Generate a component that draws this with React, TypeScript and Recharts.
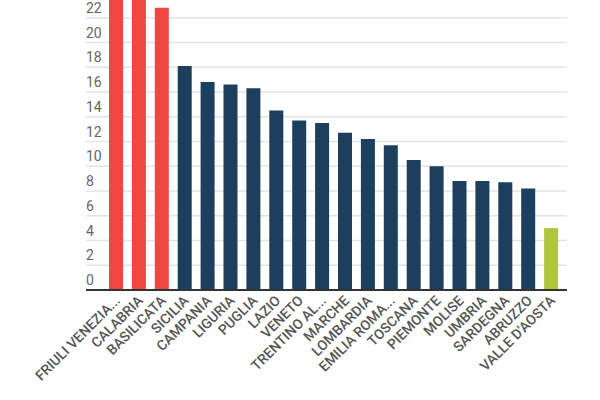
import { BarChart, Bar, XAxis, YAxis, CartesianGrid, Cell } from "recharts";

const regions = [
  "FRIULI VENEZIA...",
  "CALABRIA",
  "BASILICATA",
  "SICILIA",
  "CAMPANIA",
  "LIGURIA",
  "PUGLIA",
  "LAZIO",
  "VENETO",
  "TRENTINO AL...",
  "MARCHE",
  "LOMBARDIA",
  "EMILIA ROMA...",
  "TOSCANA",
  "PIEMONTE",
  "MOLISE",
  "UMBRIA",
  "SARDEGNA",
  "ABRUZZO",
  "VALLE D'AOSTA",
];

const values = [
  24.8, 24.5, 22.8, 18.1, 16.8, 16.6, 16.3, 14.5, 13.7, 13.5, 12.7, 12.2, 11.7, 10.5,
  10.0, 8.8, 8.8, 8.7, 8.2, 5.0,
];

// 0 = above average (red), 1 = normal, 2 = lowest
const groups = [0, 0, 0, 1, 1, 1, 1, 1, 1, 1, 1, 1, 1, 1, 1, 1, 1, 1, 1, 2];
const groupColors = ["#ee4641", "#1c3f5d", "#afc541"];

const yTicks = [0, 2, 4, 6, 8, 10, 12, 14, 16, 18, 20, 22];

const data = regions.map((name, i) => ({ name, value: values[i], group: groups[i] }));

function YTick(props: any) {
  const { y, payload } = props;
  return (
    <text x={86} y={y - 5} textAnchor="start" fill="#666" fontSize={14} fontFamily="Roboto">
      {payload.value}
    </text>
  );
}

function XTick(props: any) {
  const { x, y, payload } = props;
  return (
    <g transform={`translate(${x + 1},${y})`}>
      <text
        textAnchor="end"
        transform="rotate(-45)"
        dy={5}
        fill="#555"
        fontSize={14}
        fontWeight={500}
        fontFamily="Roboto"
      >
        {payload.value}
      </text>
    </g>
  );
}

export default function App() {
  return (
    <div style={{ position: "absolute", left: 0, top: -7, background: "#fff" }}>
      <BarChart
        width={600}
        height={407}
        data={data}
        margin={{ top: 0, right: 33, left: 0, bottom: 0 }}
      >
        <CartesianGrid vertical={false} stroke="#e4e4e4" strokeWidth={1.5} />
        <XAxis
          dataKey="name"
          interval={0}
          height={110}
          tickLine={false}
          axisLine={{ stroke: "#333", strokeWidth: 2 }}
          padding={{ left: 19, right: 4 }}
          tick={<XTick />}
        />
        <YAxis
          width={86}
          domain={[0, 24]}
          ticks={yTicks}
          allowDataOverflow
          axisLine={false}
          tickLine={false}
          tick={<YTick />}
        />
        <Bar dataKey="value" barSize={14} isAnimationActive={false}>
          {data.map((d, i) => (
            <Cell key={i} fill={groupColors[d.group]} />
          ))}
        </Bar>
      </BarChart>
    </div>
  );
}
